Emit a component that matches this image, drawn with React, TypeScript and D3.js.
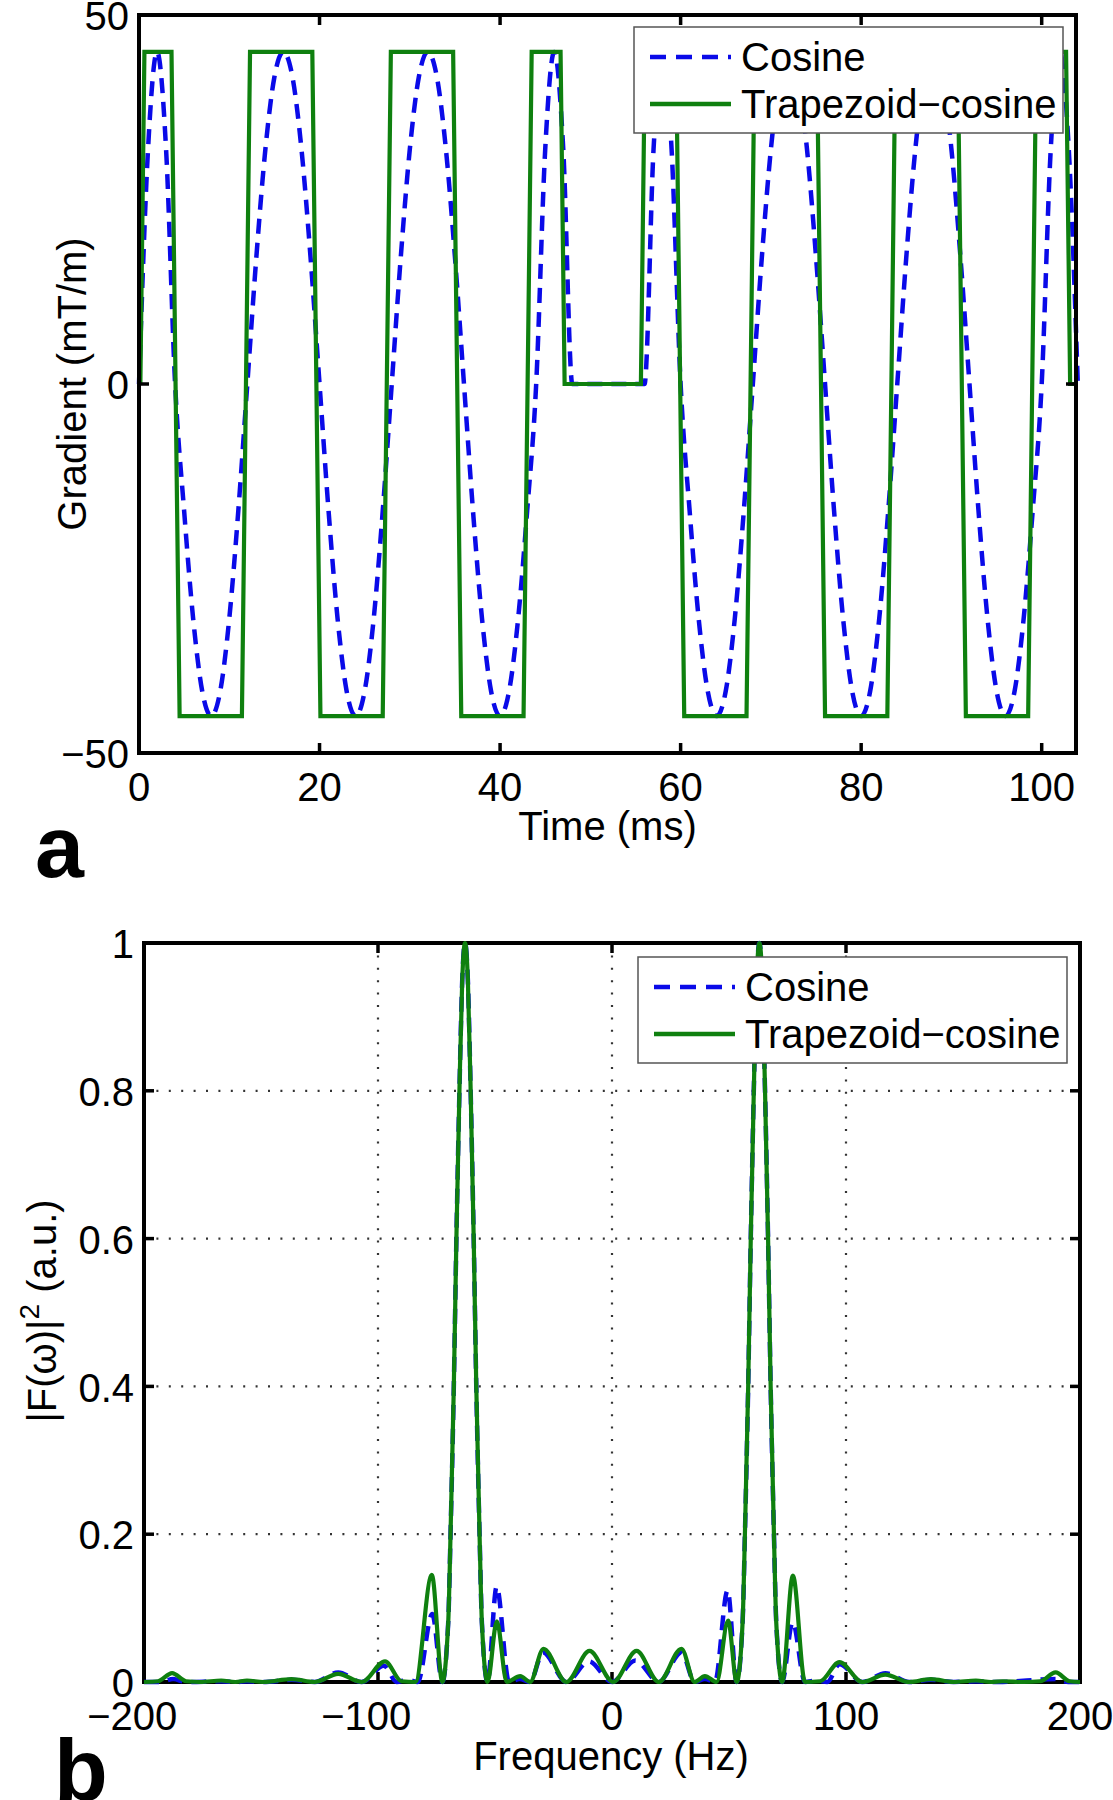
import React from 'react';
import * as d3 from 'd3';

// ---------- Panel a: gradient waveforms ----------
const timeTicks = [0, 20, 40, 60, 80, 100];
const gradientTicks = [-50, 0, 50];

// Cosine waveform, sampled every 1 ms starting at t = 0 (mT/m)
const cosineStepMs = 1;
const cosineGradient = [
  0, 31.8, 45, 31.8, 0,
  -17.2, -31.8, -41.6, -45, -41.6, -31.8, -17.2, 0,
  17.2, 31.8, 41.6, 45, 41.6, 31.8, 17.2, 0,
  -17.2, -31.8, -41.6, -45, -41.6, -31.8, -17.2, 0,
  17.2, 31.8, 41.6, 45, 41.6, 31.8, 17.2, 0,
  -17.2, -31.8, -41.6, -45, -41.6, -31.8, -17.2, 0,
  31.8, 45, 31.8, 0,
  0, 0, 0, 0, 0, 0, 0,
  0, 31.8, 45, 31.8, 0,
  -17.2, -31.8, -41.6, -45, -41.6, -31.8, -17.2, 0,
  17.2, 31.8, 41.6, 45, 41.6, 31.8, 17.2, 0,
  -17.2, -31.8, -41.6, -45, -41.6, -31.8, -17.2, 0,
  17.2, 31.8, 41.6, 45, 41.6, 31.8, 17.2, 0,
  -17.2, -31.8, -41.6, -45, -41.6, -31.8, -17.2, 0,
  31.8, 45, 31.8, 0,
];

// Trapezoid-cosine waveform vertices
const trapTimeMs = [
  0.15, 0.6, 3.6, 4.5, 11.4, 12.3, 19.2, 20.1, 27.0, 27.9, 34.8, 35.7, 42.6, 43.5, 46.7, 47.15,
  55.6, 56.05, 59.5, 60.4, 67.3, 68.2, 75.1, 76.0, 82.9, 83.8, 90.7, 91.6, 98.5, 99.4, 102.7, 103.15, 103.8,
];
const trapGradient = [
  0, 45, 45, -45, -45, 45, 45, -45, -45, 45, 45, -45, -45, 45, 45, 0,
  0, 45, 45, -45, -45, 45, 45, -45, -45, 45, 45, -45, -45, 45, 45, 0, 0,
];

// ---------- Panel b: power spectra ----------
const freqTicks = [-200, -100, 0, 100, 200];
const powerTicks = [0, 0.2, 0.4, 0.6, 0.8, 1];
const gridFreqs = [-100, 0, 100];
const gridPowers = [0.2, 0.4, 0.6, 0.8];

const trapFreqHz = [
  -200, -194, -188, -182, -176, -167, -161, -156, -149, -137, -127, -117, -107, -97, -90, -84,
  -77, -72.5, -70.0, -69.0, -67.6, -66.5, -65.2, -64.0, -62.8, -61.6, -60.4, -59.1, -58.0, -56.6, -55.6, -53.2,
  -49.2, -45, -39.2, -35, -29.3, -19.5, -9.6, 0.5, 10.5, 20, 29.7, 35.3, 39.7, 44.7, 49.6,
  53.3, 55.8, 56.8, 58.2, 59.3, 60.6, 61.8, 63.0, 64.2, 65.4, 66.7, 67.8, 69.2, 70.2, 72.7,
  77.3, 82.5, 89, 97.2, 107, 116.8, 127, 136.3, 146, 155.5, 162, 167, 176, 183, 189.6, 195.5, 200,
];
const trapPower = [
  0, 0.001, 0.012, 0.001, 0, 0.002, 0, 0.002, 0, 0.004, 0, 0.011, 0, 0.028, 0.001, 0,
  0.145, 0, 0.08, 0.2, 0.4, 0.6, 0.8, 0.95, 1.0, 0.95, 0.8, 0.6, 0.4, 0.2, 0.08, 0,
  0.082, 0, 0.008, 0, 0.045, 0, 0.042, 0, 0.042, 0, 0.045, 0, 0.008, 0, 0.083,
  0, 0.08, 0.2, 0.4, 0.6, 0.8, 0.95, 1.0, 0.95, 0.8, 0.6, 0.4, 0.2, 0.08, 0,
  0.144, 0, 0.001, 0.027, 0, 0.01, 0, 0.004, 0, 0.002, 0, 0.001, 0, 0.001, 0.013, 0.001, 0,
];

const cosFreqHz = [
  -200, -193, -187.5, -182, -167, -160, -156, -149, -137, -127, -117, -107, -97.5, -92, -87.5, -83,
  -76.8, -72.5, -70.0, -69.0, -67.6, -66.5, -65.2, -64.0, -62.8, -61.6, -60.4, -59.1, -58.0, -56.6, -55.6, -53.2,
  -49.3, -44, -39.5, -35, -29.5, -19.5, -9.8, 0, 10, 20, 29.7, 35.3, 39.7, 44, 49.4,
  53.3, 55.8, 56.8, 58.2, 59.3, 60.6, 61.8, 63.0, 64.2, 65.4, 66.7, 67.8, 69.2, 70.2, 72.7,
  77.2, 82.5, 87.5, 92, 97.2, 107, 116.8, 127, 136.3, 146, 155.5, 165, 189.6, 195, 200,
];
const cosPower = [
  0, 0, 0.004, 0, 0.001, 0, 0.001, 0, 0.003, 0, 0.013, 0, 0.022, 0, 0.003, 0,
  0.092, 0, 0.08, 0.2, 0.4, 0.6, 0.8, 0.95, 1.0, 0.95, 0.8, 0.6, 0.4, 0.2, 0.08, 0,
  0.129, 0, 0.004, 0, 0.04, 0, 0.028, 0, 0.029, 0, 0.04, 0, 0.004, 0, 0.124,
  0, 0.08, 0.2, 0.4, 0.6, 0.8, 0.95, 1.0, 0.95, 0.8, 0.6, 0.4, 0.2, 0.08, 0,
  0.081, 0, 0.002, 0, 0.024, 0, 0.012, 0, 0.003, 0, 0.001, 0, 0.004, 0, 0,
];

const seriesNames = ['Cosine', 'Trapezoid\u2212cosine'];

const FONT = '"Liberation Sans", Arial, Helvetica, sans-serif';
const FS = 40;
const BLUE = '#0a0ae8';
const GREEN = '#0f800f';
const TICK = 10;

const fmt = (n: number) => (n < 0 ? '\u2212' + Math.abs(n) : String(n));

function Frame({ xs, ys, xTicks, yTicks, centerDigits }: any) {
  const [x0, x1] = xs.range();
  const [y1, y0] = ys.range();
  return (
    <g>
      <rect x={x0} y={y0} width={x1 - x0} height={y1 - y0} fill="none" stroke="#000" strokeWidth={4} />
      {xTicks.map((t: number) => (
        <g key={'xt' + t}>
          <line x1={xs(t)} x2={xs(t)} y1={y1} y2={y1 - TICK} stroke="#000" strokeWidth={3.5} />
          <line x1={xs(t)} x2={xs(t)} y1={y0} y2={y0 + TICK} stroke="#000" strokeWidth={3.5} />
          {centerDigits && t < 0 ? (
            <text x={xs(t) + ((fmt(t).length - 1) * 0.556 * FS) / 2} y={y1 + 48} textAnchor="end" fontSize={FS} fontFamily={FONT}>
              {fmt(t)}
            </text>
          ) : (
            <text x={xs(t)} y={y1 + 48} textAnchor="middle" fontSize={FS} fontFamily={FONT}>
              {fmt(t)}
            </text>
          )}
        </g>
      ))}
      {yTicks.map((t: number) => (
        <g key={'yt' + t}>
          <line x1={x0} x2={x0 + TICK} y1={ys(t)} y2={ys(t)} stroke="#000" strokeWidth={3.5} />
          <line x1={x1} x2={x1 - TICK} y1={ys(t)} y2={ys(t)} stroke="#000" strokeWidth={3.5} />
          <text x={x0 - 10} y={ys(t)} dy="0.38em" textAnchor="end" fontSize={FS} fontFamily={FONT}>
            {fmt(t)}
          </text>
        </g>
      ))}
    </g>
  );
}

function Legend({ x, y }: { x: number; y: number }) {
  const w = 429;
  const h = 106;
  return (
    <g>
      <rect x={x} y={y} width={w} height={h} fill="#fff" stroke="#555" strokeWidth={1.5} />
      <line x1={x + 16} x2={x + 97} y1={y + 30} y2={y + 30} stroke={BLUE} strokeWidth={4.5} strokeDasharray="16 10" />
      <line x1={x + 16} x2={x + 97} y1={y + 77} y2={y + 77} stroke={GREEN} strokeWidth={4.5} />
      <text x={x + 107} y={y + 30} dy="0.36em" fontSize={FS} fontFamily={FONT}>{seriesNames[0]}</text>
      <text x={x + 107} y={y + 77} dy="0.36em" fontSize={FS} fontFamily={FONT}>{seriesNames[1]}</text>
    </g>
  );
}

export default function App() {
  const W = 1113;
  const H = 1800;

  const tx = d3.scaleLinear().domain([0, 103.8]).range([139, 1076]);
  const ty = d3.scaleLinear().domain([-50, 50]).range([753, 15]);
  const bx = d3.scaleLinear().domain([-200, 200]).range([144, 1080]);
  const by = d3.scaleLinear().domain([0, 1]).range([1682, 943]);

  const cosLine = d3
    .line<number>()
    .x((_, i) => tx(i * cosineStepMs))
    .y((d) => ty(d))
    .curve(d3.curveMonotoneX)(cosineGradient) as string;
  const trapLine = d3
    .line<number>()
    .x((_, i) => tx(trapTimeMs[i]))
    .y((d) => ty(d))(trapGradient) as string;

  const cosSpec = d3
    .line<number>()
    .x((_, i) => bx(cosFreqHz[i]))
    .y((d) => by(d))
    .curve(d3.curveMonotoneX)(cosPower) as string;
  const trapSpec = d3
    .line<number>()
    .x((_, i) => bx(trapFreqHz[i]))
    .y((d) => by(d))
    .curve(d3.curveMonotoneX)(trapPower) as string;

  const [bx0, bx1] = bx.range();
  const [by1, by0] = by.range();

  return (
    <svg width={W} height={H} viewBox={`0 0 ${W} ${H}`} style={{ position: 'absolute', left: 0, top: 0, background: '#fff' }}>
      <rect x={0} y={0} width={W} height={H} fill="#fff" />

      {/* Panel a */}
      <path d={cosLine} fill="none" stroke={BLUE} strokeWidth={4.5} strokeDasharray="15 9" />
      <path d={trapLine} fill="none" stroke={GREEN} strokeWidth={4.2} strokeLinejoin="miter" />
      <Frame xs={tx} ys={ty} xTicks={timeTicks} yTicks={gradientTicks} centerDigits={false} />
      <Legend x={634} y={27} />
      <text x={607.5} y={840} textAnchor="middle" fontSize={FS} fontFamily={FONT}>Time (ms)</text>
      <text transform="translate(86,384) rotate(-90)" textAnchor="middle" fontSize={FS} fontFamily={FONT}>Gradient (mT/m)</text>
      <text x={35} y={877} fontSize={88} fontWeight="bold" fontFamily={FONT}>a</text>

      {/* Panel b */}
      {gridPowers.map((p) => (
        <line key={'gp' + p} x1={bx0} x2={bx1} y1={by(p)} y2={by(p)} stroke="#333" strokeWidth={2.2} strokeDasharray="2 10.4" />
      ))}
      {gridFreqs.map((f) => (
        <line key={'gf' + f} x1={bx(f)} x2={bx(f)} y1={by0} y2={by1} stroke="#333" strokeWidth={2.2} strokeDasharray="2 10.4" />
      ))}
      <Frame xs={bx} ys={by} xTicks={freqTicks} yTicks={powerTicks} centerDigits={true} />
      <path d={cosSpec} fill="none" stroke={BLUE} strokeWidth={4.5} strokeDasharray="15 9" />
      <path d={trapSpec} fill="none" stroke={GREEN} strokeWidth={4.2} />
      <Legend x={638} y={957} />
      <text x={611} y={1770} textAnchor="middle" fontSize={FS} fontFamily={FONT}>Frequency (Hz)</text>
      <text transform="translate(56,1311) rotate(-90)" textAnchor="middle" fontSize={FS} fontFamily={FONT}>
        |F(ω)|<tspan fontSize={28} dy={-17}>2</tspan><tspan dy={17}> (a.u.)</tspan>
      </text>
      <text x={54} y={1800} fontSize={88} fontWeight="bold" fontFamily={FONT}>b</text>
    </svg>
  );
}
